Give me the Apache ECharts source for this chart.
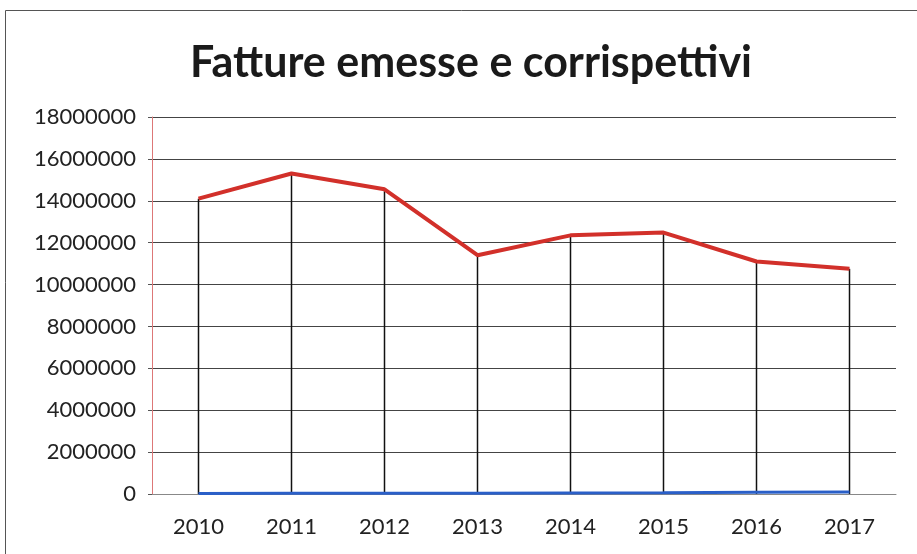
<!DOCTYPE html>
<html style="height: 100%">
<head>
    <meta charset="utf-8">
    <style>
        html, body { height: 100%; margin: 0; padding: 0; overflow: hidden; background: #fff; }
        #container { width: 917px; height: 554px; }
    </style>
</head>
<body>
    <div id="container"></div>
    <script src="https://cdn.jsdelivr.net/npm/echarts/dist/echarts.min.js"></script>
    <script>
        var anni = ['2010', '2011', '2012', '2013', '2014', '2015', '2016', '2017'];
        var fatture = [14100000, 15300000, 14550000, 11400000, 12350000, 12480000, 11100000, 10750000];
        var corrispettivi = [20000, 30000, 30000, 40000, 50000, 60000, 80000, 90000];

        var myChart = echarts.init(document.getElementById('container'));
        var font = 'Lato, "Open Sans", sans-serif';
        var option = {
            animation: false,
            title: {
                text: 'Fatture emesse e corrispettivi',
                left: 466, top: 37, textAlign: 'center',
                textStyle: { fontFamily: font, fontSize: 43, fontWeight: 'bold', color: '#1a1a1a' }
            },
            graphic: [{
                type: 'rect',
                shape: { x: 5.5, y: 10.5, width: 940, height: 600 },
                style: { fill: 'none', stroke: '#555', lineWidth: 1 },
                silent: true
            }],
            grid: { left: 152, right: 21, top: 117, bottom: 60 },
            xAxis: {
                type: 'category',
                data: anni,
                axisLine: { lineStyle: { color: '#888', width: 1 } },
                axisTick: { show: false },
                axisLabel: { fontFamily: font, fontSize: 22, color: '#222', margin: 22 }
            },
            yAxis: {
                type: 'value',
                min: 0, max: 18000000, interval: 2000000,
                axisLine: { show: true, lineStyle: { color: '#d77', width: 1 } },
                axisTick: { show: true, length: 4, lineStyle: { color: '#555' } },
                splitLine: { lineStyle: { color: '#444', width: 1 } },
                axisLabel: {
                    fontFamily: font, fontSize: 22, color: '#222', margin: 16,
                    formatter: function (v) { return String(v); }
                }
            },
            series: [
                {
                    type: 'bar',
                    data: fatture,
                    barWidth: 1.5,
                    itemStyle: { color: '#111' },
                    silent: true,
                    z: 1
                },
                {
                    type: 'line',
                    data: fatture,
                    symbol: 'none',
                    lineStyle: { color: '#d2302a', width: 4 },
                    z: 3
                },
                {
                    type: 'line',
                    data: corrispettivi,
                    symbol: 'none',
                    lineStyle: { color: '#2a5fc8', width: 3 },
                    z: 3
                }
            ]
        };
        myChart.setOption(option);
    </script>
</body>
</html>
